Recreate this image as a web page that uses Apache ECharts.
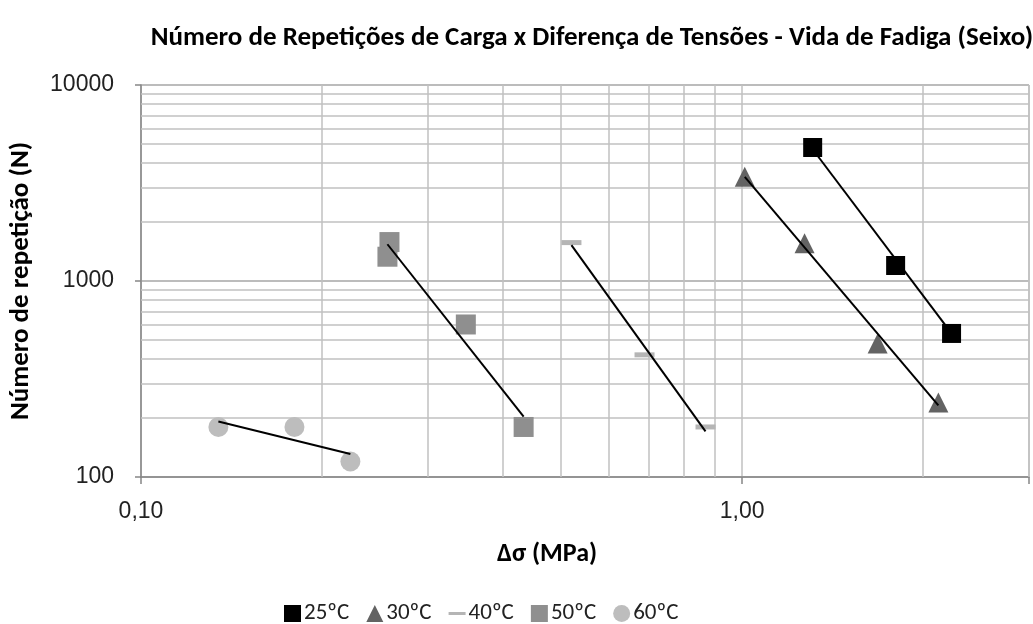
<!DOCTYPE html>
<html>
<head>
<meta charset="utf-8">
<script src="https://cdn.jsdelivr.net/npm/echarts@6/dist/echarts.min.js"></script>
<style>html,body{margin:0;padding:0;background:#fff}#c{width:1033px;height:624px}</style>
</head>
<body>
<div id="c"></div>
<script>
// ---- data ----
const seriesNames = ['25ºC', '30ºC', '40ºC', '50ºC', '60ºC'];
const x25 = [1.31, 1.80, 2.23];
const y25 = [4800, 1200, 540];
const x30 = [1.01, 1.27, 1.68, 2.12];
const y30 = [3400, 1560, 480, 240];
const x40 = [0.52, 0.688, 0.869];
const y40 = [1570, 420, 180];
const x50 = [0.259, 0.257, 0.347, 0.433];
const y50 = [1580, 1330, 600, 180];
const x60 = [0.1345, 0.180, 0.223];
const y60 = [180, 180, 120];
// trend line end points
const t25x = [1.31, 2.23], t25y = [4700, 540];
const t30x = [1.01, 2.12], t30y = [3400, 232];
const t40x = [0.52, 0.869], t40y = [1524, 171];
const t50x = [0.257, 0.433], t50y = [1540, 203];
const t60x = [0.1345, 0.223], t60y = [192, 131];
// axis scale values
const xMin = 0.1, xMax = 3;
const yMin = 100, yMax = 10000;
const xMinorGrid = [0.2, 0.3, 0.4, 0.5, 0.6, 0.7, 0.8, 0.9, 2, 3];
const yMinorGrid = [200, 300, 400, 500, 600, 700, 800, 900, 2000, 3000, 4000, 5000, 6000, 7000, 8000, 9000];

const zip = (a, b) => a.map((v, i) => [v, b[i]]);
const chart = echarts.init(document.getElementById('c'));
const labelFont = "'Liberation Sans', Arial, sans-serif";
const titleFont = "Carlito, 'Open Sans', 'Noto Sans', sans-serif";
const gridColor = '#c0c0c0';

const scatterBase = {type: 'scatter', z: 3};
const trend = (x, y) => ({
  type: 'line', data: zip(x, y), symbol: 'none', silent: true, z: 5,
  lineStyle: {color: '#000', width: 2}
});

chart.setOption({
  animation: false,
  title: {
    text: 'Número de Repetições de Carga x Diferença de Tensões - Vida de Fadiga (Seixo)',
    left: 587, top: 20, textAlign: 'center',
    textStyle: {fontFamily: titleFont, fontWeight: 'bold', fontSize: 27, color: '#000'}
  },
  legend: {
    data: [
      {name: '25ºC', icon: 'rect'},
      {name: '30ºC', icon: 'triangle'},
      {name: '40ºC', icon: 'path://M0,6H14V8.5H0Z'},
      {name: '50ºC', icon: 'rect'},
      {name: '60ºC', icon: 'circle'}
    ],
    left: 279, top: 597, itemWidth: 17, itemHeight: 17, itemGap: 17,
    textStyle: {fontFamily: titleFont, fontSize: 23, color: '#222', padding: [0, 0, 0, -2]}
  },
  grid: {left: 140, right: 4, top: 85, bottom: 147},
  xAxis: {
    type: 'log', logBase: 10, min: xMin, max: xMax,
    name: 'Δσ (MPa)', nameLocation: 'middle', nameGap: 64,
    nameTextStyle: {fontFamily: titleFont, fontWeight: 'bold', fontSize: 26, color: '#000', padding: [0, 76, 0, 0]},
    axisLine: {show: true, lineStyle: {color: '#868686', width: 1.5}},
    axisTick: {show: true, length: 7, lineStyle: {color: '#868686', width: 1.5}},
    axisLabel: {
      fontFamily: labelFont, fontSize: 23, color: '#222', margin: 23,
      formatter: v => (Math.abs(v - 3) < 1e-6) ? '' : v.toFixed(2).replace('.', ',')
    },
    splitLine: {show: true, lineStyle: {color: gridColor, width: 1.5}}
  },
  yAxis: {
    type: 'log', logBase: 10, min: yMin, max: yMax,
    name: 'Número de repetição (N)', nameLocation: 'middle', nameGap: 106,
    nameTextStyle: {fontFamily: titleFont, fontWeight: 'bold', fontSize: 27, color: '#000'},
    axisLine: {show: true, lineStyle: {color: '#868686', width: 1.5}},
    axisTick: {show: true, length: 6, lineStyle: {color: '#868686', width: 1.5}},
    axisLabel: {
      fontFamily: labelFont, fontSize: 23, color: '#222', margin: 27,
      formatter: v => String(Math.round(v))
    },
    splitLine: {show: true, lineStyle: {color: '#a6a6a6', width: 1.5}}
  },
  series: [
    {
      type: 'line', data: [], silent: true, z: 1,
      markLine: {
        silent: true, symbol: 'none', animation: false, z: 1,
        label: {show: false},
        lineStyle: {color: gridColor, width: 1.5, type: 'solid'},
        data: xMinorGrid.map(v => ({xAxis: v})).concat(yMinorGrid.map(v => ({yAxis: v})))
      }
    },
    Object.assign({}, scatterBase, {name: '25ºC', data: zip(x25, y25), symbol: 'rect', symbolSize: 19, itemStyle: {color: '#000000', opacity: 1}}),
    Object.assign({}, scatterBase, {name: '30ºC', data: zip(x30, y30), symbol: 'triangle', symbolSize: 20, itemStyle: {color: '#636363', opacity: 1}}),
    Object.assign({}, scatterBase, {name: '40ºC', data: zip(x40, y40), symbol: 'rect', symbolSize: [20, 5], itemStyle: {color: '#b5b5b5', opacity: 1}}),
    Object.assign({}, scatterBase, {name: '50ºC', data: zip(x50, y50), symbol: 'rect', symbolSize: 20, itemStyle: {color: '#8f8f8f', opacity: 1}}),
    Object.assign({}, scatterBase, {name: '60ºC', data: zip(x60, y60), symbol: 'circle', symbolSize: 20, itemStyle: {color: '#bdbdbd', opacity: 1}}),
    trend(t25x, t25y), trend(t30x, t30y), trend(t40x, t40y), trend(t50x, t50y), trend(t60x, t60y)
  ]
});
</script>
</body>
</html>
